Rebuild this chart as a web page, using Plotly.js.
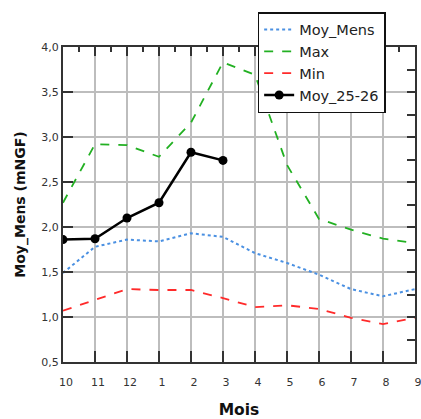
<!DOCTYPE html>
<html>
<head>
<meta charset="utf-8">
<script src="https://cdn.plot.ly/plotly-3.0.1.min.js"></script>
<style>html,body{margin:0;padding:0;background:#fff}#chart{width:421px;height:419px}</style>
</head>
<body>
<div id="chart"></div>
<script>
const months = ["10","11","12","1","2","3","4","5","6","7","8","9"];
const moyMens = [1.49,1.78,1.86,1.84,1.93,1.89,1.71,1.60,1.47,1.31,1.23,1.31];
const maxVals = [2.27,2.92,2.91,2.78,3.16,3.83,3.69,2.69,2.09,1.97,1.87,1.82];
const minVals = [1.07,1.19,1.31,1.30,1.30,1.21,1.11,1.13,1.09,0.99,0.92,0.99];
const moy2526Months = ["10","11","12","1","2","3"];
const moy2526 = [1.86,1.87,2.10,2.27,2.83,2.74];

const font = "DejaVu Sans, Verdana, sans-serif";
const traces = [
  {x: months, y: moyMens, name: "Moy_Mens", mode: "lines", line: {color: "#4a90e2", width: 2, dash: "dot"}},
  {x: months, y: maxVals, name: "Max", mode: "lines", line: {color: "#22b022", width: 1.8, dash: "dash"}},
  {x: months, y: minVals, name: "Min", mode: "lines", line: {color: "#ff2a2a", width: 1.8, dash: "dash"}},
  {x: moy2526Months, y: moy2526, name: "Moy_25-26", mode: "lines+markers", line: {color: "#000", width: 2.5}, marker: {color: "#000", size: 9}},
  // invisible copy so the top/right frame axes (with their own tick spacing) are drawn
  {x: months.map((m, i) => i), y: moyMens, xaxis: "x2", yaxis: "y2", mode: "lines", opacity: 0,
   line: {width: 0}, showlegend: false, hoverinfo: "skip"}
];
const layout = {
  width: 421, height: 419,
  margin: {l: 63, r: 6, t: 47, b: 57},
  paper_bgcolor: "#fff", plot_bgcolor: "#fff",
  separators: ",.",
  font: {family: font, color: "#333", size: 11},
  showlegend: true,
  legend: {x: 0.553, y: 1.111, xanchor: "left", yanchor: "top", bgcolor: "#fff", bordercolor: "#111", borderwidth: 1.5,
           font: {family: font, size: 14.5, color: "#222"}, tracegroupgap: 0},
  xaxis: {type: "category", range: [0, 11], showgrid: true, gridcolor: "#bdbdbd", gridwidth: 2,
          showline: true, linecolor: "#333", linewidth: 2, ticks: "inside", ticklen: 11, tickwidth: 2, tickcolor: "#333",
          tickfont: {family: font, size: 11, color: "#333"}, zeroline: false, ticklabelstandoff: 9, ticklabelshift: 3,
          title: {text: "Mois", font: {family: font, size: 15.5, color: "#111", weight: "bold"}, standoff: 23}},
  yaxis: {range: [0.5, 4.0], dtick: 0.5, tickformat: ".1f", showgrid: true, gridcolor: "#bdbdbd", gridwidth: 2,
          showline: true, linecolor: "#333", linewidth: 2, ticks: "inside", ticklen: 10, tickwidth: 2, tickcolor: "#333",
          tickfont: {family: font, size: 11, color: "#333"}, zeroline: false,
          title: {text: "Moy_Mens (mNGF)", font: {family: font, size: 14, color: "#111", weight: "bold"}, standoff: 12}},
  xaxis2: {overlaying: "x", side: "top", anchor: "y2", type: "linear", range: [0, 11], dtick: 1, showgrid: false,
           showline: true, linecolor: "#333", linewidth: 2, ticks: "inside", ticklen: 9, tickwidth: 2, tickcolor: "#333",
           showticklabels: false, zeroline: false,
           minor: {dtick: 0.5, ticks: "inside", ticklen: 5, tickwidth: 2, tickcolor: "#333", showgrid: false}},
  yaxis2: {overlaying: "y", side: "right", anchor: "x2", range: [0.5, 4.0], dtick: 0.25, showgrid: false,
           showline: true, linecolor: "#333", linewidth: 2, ticks: "inside", ticklen: 8, tickwidth: 2, tickcolor: "#333",
           showticklabels: false, zeroline: false}
};
Plotly.newPlot("chart", traces, layout, {displayModeBar: false, staticPlot: true});
</script>
</body>
</html>
